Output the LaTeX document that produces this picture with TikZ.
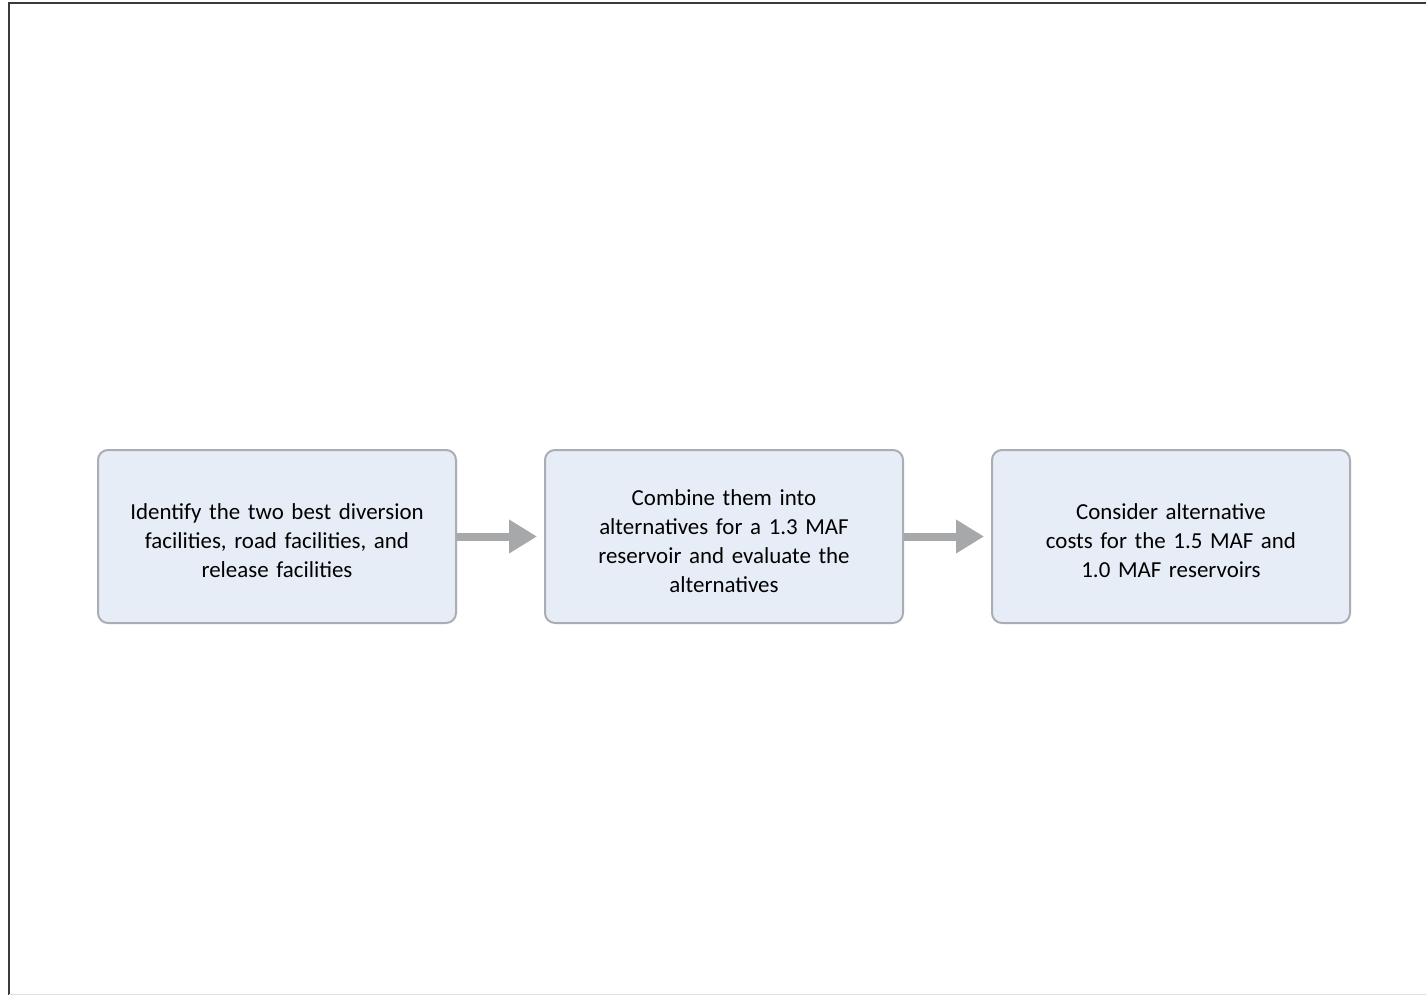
\documentclass[tikz,border=0pt]{standalone}
\usepackage{fontspec}
\setmainfont{Carlito}
\usetikzlibrary{arrows.meta}
\definecolor{boxfill}{HTML}{E7EDF7}
\definecolor{boxline}{HTML}{AAADB3}
\definecolor{arrowgray}{HTML}{A7A8AA}
\definecolor{framegray}{HTML}{3A3A3A}
\tikzset{
  stepbox/.style={draw=boxline, line width=1pt, fill=boxfill, rounded corners=5pt,
    minimum width=179pt, minimum height=86.5pt, inner sep=0pt},
  steptext/.style={align=center, text width=170pt,
    font=\fontsize{11.45}{14.5}\selectfont, inner sep=0pt},
  flowarrow/.style={draw=arrowgray, line width=4pt,
    -{Triangle[length=14pt,width=16pt]}, shorten >=3.5pt}
}
\begin{document}
\begin{tikzpicture}[x=0.5pt,y=-0.5pt]
\useasboundingbox (0,0) rectangle (1426,995);
\fill[white] (0,0) rectangle (1426,995);
% frame
\draw[framegray, line width=1pt] (8.5,995) -- (8.5,3.5) -- (1426,3.5);
\draw[black!12, line width=0.5pt] (8.5,994) -- (1426,994);
% boxes
\node[stepbox] (b1) at (277,536.5) {};
\node[stepbox] (b2) at (724,536.5) {};
\node[stepbox] (b3) at (1171,536.5) {};
\node[steptext] (t1) at (277,541) {Identify the two best diversion\\facilities, road facilities, and\\release facilities};
\node[steptext] (t2) at (724,541) {Combine them into\\alternatives for a 1.3 MAF\\reservoir and evaluate the\\alternatives};
\node[steptext] (t3) at (1171,541) {Consider alternative\\costs for the 1.5 MAF and\\1.0 MAF reservoirs};
% arrows
\draw[flowarrow] (b1.east) -- (b2.west);
\draw[flowarrow] (b2.east) -- (b3.west);
\end{tikzpicture}
\end{document}
